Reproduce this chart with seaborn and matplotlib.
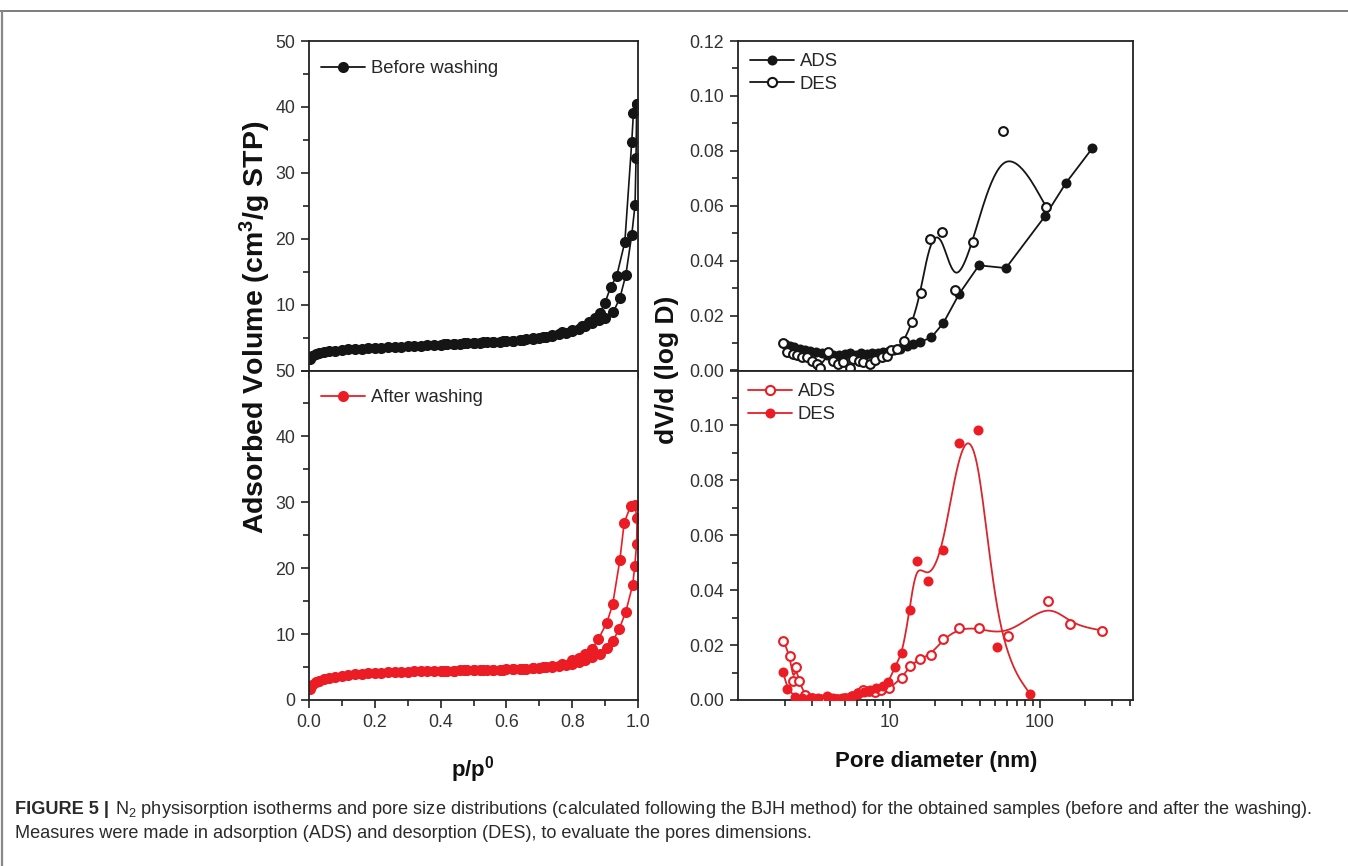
import numpy as np
import pandas as pd
import matplotlib
matplotlib.use("Agg")
import matplotlib.pyplot as plt
import seaborn as sns
from matplotlib.lines import Line2D
from matplotlib.ticker import MultipleLocator, FixedLocator, LogLocator, FuncFormatter, NullFormatter

# ---------------- data ----------------
# Isotherm before washing (p/p0, adsorbed volume)
bw_ads_p = [0.003, 0.010, 0.020, 0.030, 0.045, 0.060, 0.080,
            0.10, 0.12, 0.14, 0.16, 0.18, 0.20, 0.22, 0.24, 0.26, 0.28, 0.30, 0.32, 0.34, 0.36,
            0.38, 0.40, 0.42, 0.44, 0.46, 0.48, 0.50, 0.52, 0.54, 0.56, 0.58, 0.60, 0.62, 0.64,
            0.66, 0.68, 0.70, 0.72, 0.74, 0.76, 0.78, 0.80, 0.82, 0.84, 0.86, 0.88, 0.90,
            0.925, 0.945, 0.963, 0.981, 0.991, 0.994, 0.996]
bw_ads_v = [1.7, 2.2, 2.5, 2.65, 2.8, 2.9, 3.0,
            3.1, 3.2, 3.25, 3.3, 3.35, 3.4, 3.45, 3.5, 3.55, 3.6, 3.65, 3.7, 3.75, 3.8,
            3.85, 3.9, 3.95, 4.0, 4.05, 4.1, 4.15, 4.2, 4.25, 4.3, 4.4, 4.45, 4.55, 4.65,
            4.75, 4.85, 5.0, 5.1, 5.3, 5.5, 5.7, 6.0, 6.3, 6.7, 7.2, 7.6, 8.0,
            8.9, 11.0, 14.5, 20.6, 25.1, 32.2, 40.4]
bw_des_p = [0.996, 0.986, 0.981, 0.960, 0.935, 0.917, 0.900, 0.884, 0.870, 0.850, 0.830,
            0.800, 0.770, 0.740, 0.710, 0.680, 0.650, 0.620, 0.590, 0.560, 0.530, 0.500,
            0.470, 0.440, 0.410]
bw_des_v = [40.4, 39.0, 34.7, 19.5, 14.3, 12.7, 10.3, 8.7, 8.0, 7.3, 6.8,
            6.2, 5.8, 5.4, 5.1, 4.9, 4.7, 4.55, 4.45, 4.35, 4.25, 4.15,
            4.1, 4.0, 3.95]

# Isotherm after washing
aw_ads_p = [0.003, 0.010, 0.020, 0.030, 0.045, 0.060, 0.080,
            0.10, 0.12, 0.14, 0.16, 0.18, 0.20, 0.22, 0.24, 0.26, 0.28, 0.30, 0.32, 0.34, 0.36,
            0.38, 0.40, 0.42, 0.44, 0.46, 0.48, 0.50, 0.52, 0.54, 0.56, 0.58, 0.60, 0.62, 0.64,
            0.66, 0.68, 0.70, 0.72, 0.74, 0.76, 0.78, 0.80, 0.82, 0.84, 0.86,
            0.884, 0.905, 0.923, 0.943, 0.963, 0.984, 0.990, 0.996, 0.997]
aw_ads_v = [1.7, 2.3, 2.7, 2.95, 3.15, 3.3, 3.5,
            3.65, 3.8, 3.9, 4.0, 4.05, 4.1, 4.15, 4.2, 4.25, 4.28, 4.3, 4.33, 4.35, 4.38,
            4.4, 4.42, 4.44, 4.46, 4.48, 4.5, 4.52, 4.54, 4.56, 4.58, 4.6, 4.63, 4.66, 4.7,
            4.75, 4.8, 4.88, 4.96, 5.05, 5.15, 5.3, 5.5, 5.75, 6.1, 6.5,
            7.0, 7.9, 8.9, 10.8, 13.4, 17.5, 20.3, 23.7, 27.6]
aw_des_p = [0.990, 0.978, 0.958, 0.945, 0.923, 0.905, 0.879, 0.860, 0.840, 0.820, 0.800,
            0.770, 0.740, 0.710, 0.680, 0.650, 0.620, 0.590, 0.560, 0.530, 0.500, 0.470,
            0.440, 0.410]
aw_des_v = [29.6, 29.5, 26.9, 21.3, 14.5, 11.7, 9.2, 7.7, 7.0, 6.4, 6.0,
            5.5, 5.2, 5.0, 4.85, 4.75, 4.68, 4.62, 4.58, 4.55, 4.52, 4.48,
            4.45, 4.42]

# Pore size distribution before washing
bw_psd_ads_d = [2.0, 2.15, 2.3, 2.5, 2.7, 2.95, 3.2, 3.5, 3.8, 4.2, 4.6, 5.0, 5.4, 5.9, 6.4,
                7.0, 7.6, 8.3, 9.0, 9.8, 10.7, 11.7, 12.9, 14.2, 15.8, 18.9, 22.7, 29.0,
                39.2, 59.3, 108, 149, 223]
bw_psd_ads_v = [0.0095, 0.0090, 0.0085, 0.0080, 0.0075, 0.0072, 0.0068, 0.0063, 0.0058,
                0.0056, 0.0055, 0.0060, 0.0062, 0.0058, 0.0065, 0.0060, 0.0065, 0.0062,
                0.0068, 0.0072, 0.0075, 0.0080, 0.0088, 0.0095, 0.0103, 0.0121, 0.0173,
                0.0280, 0.0383, 0.0373, 0.0562, 0.0683, 0.0809]
bw_psd_des_d = [1.94, 2.07, 2.25, 2.39, 2.6, 2.78, 3.0, 3.24, 3.41, 3.88, 4.19, 4.5, 4.89,
                5.4, 5.69, 6.2, 6.64, 7.36, 8.0, 8.8, 9.5, 10.1, 11.2, 12.4, 14.1, 16.0,
                18.5, 22.1, 27.1, 35.9, 57.0, 110.0]
bw_psd_des_v = [0.0100, 0.0067, 0.0060, 0.0055, 0.0050, 0.0049, 0.0035, 0.0022, 0.0010,
                0.0067, 0.0036, 0.0025, 0.0030, 0.0010, 0.0043, 0.0035, 0.0030, 0.0024,
                0.0040, 0.0049, 0.0052, 0.0073, 0.0079, 0.0109, 0.0176, 0.0283, 0.0480,
                0.0505, 0.0292, 0.0468, 0.0872, 0.0596]

# Pore size distribution after washing
aw_psd_ads_d = [1.94, 2.15, 2.27, 2.36, 2.48, 2.7, 3.0, 3.4, 3.9, 4.4, 5.0, 5.6, 6.1, 6.6,
                7.2, 7.9, 8.7, 9.9, 12.0, 13.6, 15.8, 18.7, 22.7, 29.0, 39.4, 61.5, 113.6,
                158.5, 260.4]
aw_psd_ads_v = [0.0216, 0.0162, 0.0069, 0.0119, 0.0068, 0.0020, 0.0008, 0.0005, 0.0006,
                0.0005, 0.0008, 0.0015, 0.0025, 0.0037, 0.0032, 0.0030, 0.0038, 0.0042,
                0.0080, 0.0125, 0.0150, 0.0165, 0.0222, 0.0261, 0.0262, 0.0232, 0.0360,
                0.0275, 0.0253]
aw_psd_des_d = [1.94, 2.07, 2.33, 2.6, 2.93, 3.3, 3.78, 4.2, 4.76, 5.4, 6.16, 6.7, 7.36,
                8.1, 9.0, 9.75, 10.8, 12.1, 13.5, 15.1, 18.0, 22.7, 29.0, 38.4, 51.9, 85.8]
aw_psd_des_v = [0.0103, 0.0040, 0.0012, 0.0008, 0.0007, 0.0008, 0.0013, 0.0008, 0.0008,
                0.0012, 0.0022, 0.0030, 0.0036, 0.0044, 0.0052, 0.0064, 0.0121, 0.0170,
                0.0328, 0.0508, 0.0435, 0.0548, 0.0936, 0.0982, 0.0194, 0.0022]

legend_bw = "Before washing"
legend_aw = "After washing"
series_names = ["ADS", "DES"]
caption_bold = "FIGURE 5 |"
caption_line1 = (" N$_2$ physisorption isotherms and pore size distributions (calculated following "
                 "the BJH method) for the obtained samples (before and after the washing).")
caption_line2 = ("Measures were made in adsorption (ADS) and desorption (DES), to evaluate the "
                 "pores dimensions.")

# ---------------- style ----------------
sns.set_style("ticks")
plt.rcParams["font.family"] = ["Liberation Sans", "DejaVu Sans"]
plt.rcParams["mathtext.fontset"] = "custom"
plt.rcParams["mathtext.rm"] = "Liberation Sans"
plt.rcParams["mathtext.it"] = "Liberation Sans:italic"
plt.rcParams["mathtext.bf"] = "Liberation Sans:bold"

W, H = 1348, 866
fig = plt.figure(figsize=(W / 100, H / 100), dpi=100)
fig.patch.set_facecolor("white")

BLACK = "#151515"
RED = "#ec1c24"
RED_LINE = "#d9262c"


def rect(x0, y0, x1, y1):
    return [x0 / W, 1 - y1 / H, (x1 - x0) / W, (y1 - y0) / H]


ax_tl = fig.add_axes(rect(309, 41, 638, 370.5))
ax_bl = fig.add_axes(rect(309, 370.5, 638, 700))
ax_tr = fig.add_axes(rect(738, 41, 1133, 370.5))
ax_br = fig.add_axes(rect(738, 370.5, 1133, 700))


def bspline(xs, ys, n=24):
    """Cubic B-spline with the data points as control points (Origin style)."""
    P = np.column_stack([xs, ys])
    P = np.vstack([P[0], P[0], P, P[-1], P[-1]])
    t = np.linspace(0, 1, n, endpoint=False)[:, None]
    b0 = (1 - t) ** 3 / 6
    b1 = (3 * t ** 3 - 6 * t ** 2 + 4) / 6
    b2 = (-3 * t ** 3 + 3 * t ** 2 + 3 * t + 1) / 6
    b3 = t ** 3 / 6
    segs = [b0 * P[i] + b1 * P[i + 1] + b2 * P[i + 2] + b3 * P[i + 3] for i in range(len(P) - 3)]
    out = np.vstack(segs + [P[-1][None, :]])
    return out[:, 0], out[:, 1]


def isotherm(ax, ads_p, ads_v, des_p, des_v, color):
    df = pd.DataFrame({"p": ads_p + des_p, "v": ads_v + des_v})
    sns.lineplot(data=df, x="p", y="v", sort=False, estimator=None, ax=ax, color=color,
                 lw=1.2, marker="o", markersize=8.0, markeredgewidth=0, legend=False)


def smooth_line(ax, d, v, color):
    lx, ly = bspline(np.log10(d), np.array(v))
    df = pd.DataFrame({"d": 10 ** lx, "v": ly})
    sns.lineplot(data=df, x="d", y="v", sort=False, estimator=None, ax=ax, color=color,
                 lw=1.3, legend=False, zorder=2)


def open_points(ax, d, v, color):
    sns.scatterplot(x=d, y=v, ax=ax, s=40, facecolor="white", edgecolor=color,
                    linewidth=1.5, zorder=3, legend=False)


def filled_points(ax, d, v, color):
    sns.scatterplot(x=d, y=v, ax=ax, s=52, color=color, linewidth=0, zorder=3, legend=False)


# left panels
isotherm(ax_tl, bw_ads_p, bw_ads_v, bw_des_p, bw_des_v, BLACK)
isotherm(ax_bl, aw_ads_p, aw_ads_v, aw_des_p, aw_des_v, RED)

# top right: ADS straight, DES smooth
sns.lineplot(x=bw_psd_ads_d, y=bw_psd_ads_v, sort=False, estimator=None, ax=ax_tr, color=BLACK,
             lw=1.3, marker="o", markersize=7.2, markeredgewidth=0, legend=False)
smooth_line(ax_tr, bw_psd_des_d, bw_psd_des_v, BLACK)
open_points(ax_tr, bw_psd_des_d, bw_psd_des_v, BLACK)

# bottom right: both smooth
smooth_line(ax_br, aw_psd_ads_d, aw_psd_ads_v, RED_LINE)
smooth_line(ax_br, aw_psd_des_d, aw_psd_des_v, RED_LINE)
open_points(ax_br, aw_psd_ads_d, aw_psd_ads_v, RED)
filled_points(ax_br, aw_psd_des_d, aw_psd_des_v, RED)

# ---------------- axes formatting ----------------
for ax in (ax_tl, ax_bl, ax_tr, ax_br):
    ax.set_xlabel("")
    ax.set_ylabel("")
    for s in ax.spines.values():
        s.set_visible(True)
        s.set_linewidth(1.3)
        s.set_color("#222222")
    ax.tick_params(which="both", direction="out", width=1.2, colors="#222222",
                   labelcolor="#333333", labelsize=12.8)
    ax.tick_params(which="major", length=6, pad=4)
    ax.tick_params(which="minor", length=4)

for ax in (ax_tl, ax_bl):
    ax.set_xlim(0, 1.0)
    ax.set_ylim(0, 50)
    ax.xaxis.set_major_locator(MultipleLocator(0.2))
    ax.xaxis.set_minor_locator(MultipleLocator(0.1))
    ax.yaxis.set_major_locator(MultipleLocator(10))
    ax.yaxis.set_minor_locator(MultipleLocator(5))
    ax.xaxis.set_major_formatter(FuncFormatter(lambda x, p: f"{x:.1f}"))

ax_tl.yaxis.set_major_formatter(FuncFormatter(lambda y, p: "" if abs(y) < 1e-9 else f"{y:.0f}"))
ax_bl.yaxis.set_major_formatter(FuncFormatter(lambda y, p: f"{y:.0f}"))
ax_tl.tick_params(axis="x", labelbottom=False)

for ax in (ax_tr, ax_br):
    ax.set_xscale("log")
    ax.set_xlim(0.97, 417)
    ax.set_ylim(0, 0.12)
    ax.xaxis.set_major_locator(FixedLocator([10, 100]))
    ax.xaxis.set_minor_locator(LogLocator(base=10, subs=np.arange(2, 10)))
    ax.xaxis.set_minor_formatter(NullFormatter())
    ax.xaxis.set_major_formatter(FuncFormatter(lambda x, p: f"{x:.0f}"))
    ax.yaxis.set_major_locator(MultipleLocator(0.02))
    ax.yaxis.set_minor_locator(MultipleLocator(0.01))

ax_tr.yaxis.set_major_formatter(FuncFormatter(lambda y, p: f"{y:.2f}"))
ax_br.yaxis.set_major_formatter(FuncFormatter(lambda y, p: "" if y > 0.115 else f"{y:.2f}"))
ax_tr.tick_params(axis="x", labelbottom=False)

# ---------------- legends ----------------
leg_kw = dict(loc="upper left", frameon=False, fontsize=13.3, handlelength=2.4,
              handletextpad=0.3, borderpad=0, borderaxespad=0, labelspacing=0.3)


def h_filled(color, ms):
    return Line2D([], [], color=color, lw=1.3, marker="o", markersize=ms, markeredgewidth=0)


def h_open(color, ms):
    return Line2D([], [], color=color, lw=1.3, marker="o", markersize=ms,
                  markerfacecolor="white", markeredgecolor=color, markeredgewidth=1.5)


ax_tl.legend(handles=[h_filled(BLACK, 8.0)], labels=[legend_bw],
             bbox_to_anchor=(12 / 329, 1 - 19 / 329.5), **leg_kw)
ax_bl.legend(handles=[h_filled(RED, 8.0)], labels=[legend_aw],
             bbox_to_anchor=(12 / 329, 1 - 19 / 329.5), **leg_kw)
ax_tr.legend(handles=[h_filled(BLACK, 7.2), h_open(BLACK, 6.6)], labels=series_names,
             bbox_to_anchor=(12 / 395, 1 - 12 / 329.5), **leg_kw)
ax_br.legend(handles=[h_open(RED, 6.6), h_filled(RED, 7.2)], labels=series_names,
             bbox_to_anchor=(10 / 395, 1 - 13 / 329.5), **leg_kw)

# ---------------- axis labels ----------------
fig.text(255 / W, 1 - 327 / H, r"Adsorbed Volume (cm$^\mathbf{3}$/g STP)", rotation=90,
         ha="center", va="center", fontsize=20.5, fontweight="bold", color="#111111")
fig.text(667 / W, 1 - 370 / H, "dV/d (log D)", rotation=90,
         ha="center", va="center", fontsize=19, fontweight="bold", color="#111111")
fig.text(473 / W, 1 - 770 / H, r"p/p$^\mathbf{0}$", ha="center", va="center",
         fontsize=16, fontweight="bold", color="#111111")
fig.text(936 / W, 1 - 762 / H, "Pore diameter (nm)", ha="center", va="center",
         fontsize=16, fontweight="bold", color="#111111")

# ---------------- frame lines ----------------
fig.add_artist(Line2D([0, 1], [1 - 10.5 / H] * 2, transform=fig.transFigure,
                      color="#666666", lw=1.2))
fig.add_artist(Line2D([2 / W] * 2, [0, 1 - 10.5 / H], transform=fig.transFigure,
                      color="#888888", lw=1.6))

# ---------------- caption ----------------
fs = 12.0
cap_color = "#2a2a2a"
t_b = fig.text(15 / W, 1 - 814.5 / H, caption_bold, fontsize=fs, fontweight="bold",
               va="baseline", ha="left", color=cap_color)
t_1 = fig.text(0, 1 - 814.5 / H, caption_line1, fontsize=fs, va="baseline", ha="left",
               color=cap_color)
t_2 = fig.text(15 / W, 1 - 838.5 / H, caption_line2, fontsize=fs, va="baseline", ha="left",
               color=cap_color)

for _ in range(3):
    fig.canvas.draw()
    r = fig.canvas.get_renderer()
    bb = t_b.get_window_extent(r)
    t_1.set_x((bb.x1 + 1) / W)
    fig.canvas.draw()
    b1 = t_1.get_window_extent(r)
    total = b1.x1 - 15
    scale = (1318 - 15) / total
    fs = fs * scale
    for t in (t_b, t_1, t_2):
        t.set_fontsize(fs)
fig.canvas.draw()
bb = t_b.get_window_extent(fig.canvas.get_renderer())
t_1.set_x((bb.x1 + 1) / W)

fig.savefig("out.png", dpi=100, facecolor="white")
